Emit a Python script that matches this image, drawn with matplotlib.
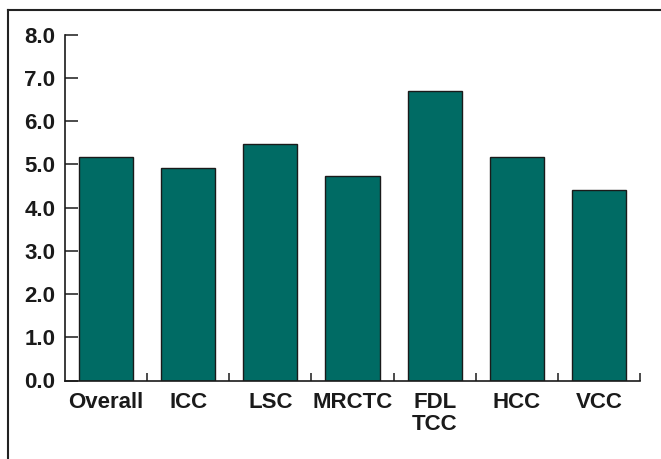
import matplotlib
matplotlib.use("Agg")
import matplotlib.pyplot as plt
from matplotlib.lines import Line2D
import numpy as np

categories = ["Overall", "ICC", "LSC", "MRCTC", "FDL\nTCC", "HCC", "VCC"]
values = [5.16, 4.91, 5.47, 4.73, 6.69, 5.17, 4.41]
yticks = [0, 1, 2, 3, 4, 5, 6, 7, 8]
ytick_labels = ["0.0", "1.0", "2.0", "3.0", "4.0", "5.0", "6.0", "7.0", "8.0"]

plt.rcParams["font.family"] = ["Liberation Sans", "DejaVu Sans"]
plt.rcParams["font.weight"] = "bold"

W, H = 661, 459
fig = plt.figure(figsize=(W / 100, H / 100), dpi=100)
ax = fig.add_axes([65 / W, (H - 380.5) / H, (640 - 65) / W, (380.5 - 34.7) / H])

x = np.arange(len(categories))
ax.bar(x, values, width=0.66, color="#006B64", edgecolor="#1a1a1a", linewidth=1.0, zorder=2)

ax.set_xlim(-0.5, len(categories) - 0.5)
ax.set_ylim(0, 8)

ax.set_yticks(yticks)
ax.set_yticklabels(ytick_labels)
ax.set_xticks(x)
ax.set_xticklabels(categories, linespacing=1.05)
ax.set_xticks(x + 0.5, minor=True)

ax.tick_params(axis="y", direction="in", length=9.5, width=1.1, pad=7,
               labelsize=16, colors="#1a1a1a")
ax.tick_params(axis="x", which="major", length=0, pad=8.5, labelsize=16, colors="#1a1a1a")
ax.tick_params(axis="x", which="minor", direction="in", length=5.8, width=1.1, color="#1a1a1a")
for lbl in ax.get_xticklabels() + ax.get_yticklabels():
    lbl.set_fontweight("bold")

for side in ("top", "right"):
    ax.spines[side].set_visible(False)
for side in ("left", "bottom"):
    ax.spines[side].set_linewidth(1.2)
    ax.spines[side].set_color("#1a1a1a")

# frame lines along the top and left of the panel
fig.add_artist(Line2D([8 / W, 1.0], [(H - 10) / H, (H - 10) / H],
                      transform=fig.transFigure, color="#222222", linewidth=1.5))
fig.add_artist(Line2D([8 / W, 8 / W], [0.0, (H - 10) / H],
                      transform=fig.transFigure, color="#222222", linewidth=1.5))

fig.savefig("out.png", dpi=100)
